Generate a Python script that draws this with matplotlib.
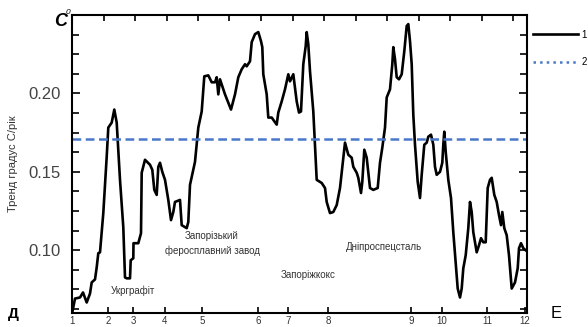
import matplotlib
matplotlib.use("Agg")
import matplotlib.pyplot as plt
from matplotlib.lines import Line2D
from matplotlib.ticker import MultipleLocator
import numpy as np

plt.rcParams['font.family'] = ['Liberation Sans', 'DejaVu Sans']

# distance along the route (arbitrary units) and temperature trend, deg C / year
dist = [0.03, 0.3, 0.8, 1.1, 1.47, 1.8, 1.97, 2.3, 2.47, 2.63, 2.8, 3.13, 3.47, 3.63,
        3.97, 4.23, 4.47, 4.8, 5.13, 5.3, 5.47, 5.8, 5.87, 6.13, 6.15, 6.63, 6.9, 6.97,
        7.3, 7.8, 8.03, 8.23, 8.47, 8.63, 8.8, 9.03, 9.3, 9.63, 9.9, 10.13, 10.3, 10.8,
        10.97, 11.47, 11.63, 11.8, 12.3, 12.63, 12.97, 13.23, 13.63, 13.97, 14.3, 14.47,
        14.63, 14.8, 15.3, 15.9, 16.3, 16.63, 16.97, 17.3, 17.47, 17.8, 17.97, 18.3,
        18.63, 18.9, 19.03, 19.13, 19.47, 19.63, 19.97, 20.47, 20.63, 20.97, 21.3, 21.63,
        21.8, 22.13, 22.47, 22.7, 22.9, 23.13, 23.37, 23.47, 23.63, 23.8, 24.13, 24.3,
        24.47, 24.97, 25.3, 25.47, 25.8, 26.13, 26.47, 26.8, 27.13, 27.3, 27.63, 27.97,
        28.13, 28.47, 28.63, 28.9, 29.03, 29.23, 29.47, 29.8, 30.13, 30.57, 30.8, 31.03,
        31.3, 31.47, 31.8, 32.03, 32.13, 32.3, 32.47, 32.7, 32.97, 33.23, 33.47, 33.63,
        33.8, 33.97, 34.13, 34.3, 34.57, 34.8, 34.97, 35.23, 35.47, 35.63, 35.9, 36.13,
        36.3, 36.47, 36.8, 37.03, 37.13, 37.23, 37.37, 37.63, 37.9, 38.13, 38.37, 38.57,
        38.8, 38.97, 39.13, 39.37, 39.63, 39.8, 39.97, 40.13, 40.47, 40.7, 40.9, 41.13,
        41.37, 41.57, 41.8, 41.97, 42.23, 42.47, 42.7, 42.9, 43.03, 43.23, 43.47, 43.7,
        43.97, 44.3, 44.57, 44.7, 44.9, 45.13, 45.37]
trend = [0.0604, 0.0692, 0.0699, 0.0731, 0.0667, 0.0724, 0.0795, 0.0814, 0.0891, 0.0981,
         0.0987, 0.1237, 0.1596, 0.1782, 0.1814, 0.1897, 0.1814, 0.1449, 0.1147, 0.0827,
         0.0821, 0.0821, 0.0936, 0.0949, 0.1045, 0.1045, 0.1109, 0.1494, 0.1577, 0.1545,
         0.1513, 0.1385, 0.1353, 0.1532, 0.1558, 0.1500, 0.1449, 0.1321, 0.1192, 0.1244,
         0.1308, 0.1321, 0.1160, 0.1141, 0.1180, 0.1417, 0.1564, 0.1782, 0.1885, 0.2109,
         0.2115, 0.2071, 0.2071, 0.2103, 0.1994, 0.2090, 0.1994, 0.1897, 0.1994, 0.2103,
         0.2154, 0.2186, 0.2173, 0.2205, 0.2327, 0.2378, 0.2391, 0.2333, 0.2295, 0.2122,
         0.1994, 0.1846, 0.1846, 0.1801, 0.1878, 0.1949, 0.2026, 0.2122, 0.2077, 0.2122,
         0.1949, 0.1878, 0.1885, 0.2186, 0.2301, 0.2391, 0.2314, 0.2141, 0.1885, 0.1673,
         0.1449, 0.1429, 0.1397, 0.1308, 0.1237, 0.1244, 0.1288, 0.1397, 0.1590, 0.1686,
         0.1609, 0.1590, 0.1532, 0.1494, 0.1462, 0.1365, 0.1436, 0.1641, 0.1590, 0.1397,
         0.1385, 0.1397, 0.1558, 0.1654, 0.1782, 0.1974, 0.2026, 0.2186, 0.2295, 0.2218,
         0.2103, 0.2090, 0.2122, 0.2269, 0.2430, 0.2442, 0.2333, 0.2186, 0.1865, 0.1673,
         0.1436, 0.1333, 0.1481, 0.1673, 0.1686, 0.1724, 0.1737, 0.1673, 0.1532, 0.1481,
         0.1500, 0.1558, 0.1673, 0.1756, 0.1628, 0.1449, 0.1333, 0.1115, 0.0923, 0.0756,
         0.0699, 0.0756, 0.0885, 0.0968, 0.1141, 0.1308, 0.1244, 0.1115, 0.0987, 0.1032,
         0.1077, 0.1051, 0.1051, 0.1397, 0.1449, 0.1462, 0.1353, 0.1308, 0.1224, 0.1160,
         0.1244, 0.1141, 0.1096, 0.0968, 0.0756, 0.0795, 0.0885, 0.1013, 0.1045, 0.1013,
         0.1000]

mean_trend = 0.171

# route points 1..12 along the profile
point_pos = [0.0, 3.6, 6.1, 9.3, 13.0, 18.6, 21.6, 25.6, 33.9, 37.0, 41.5, 45.3]
point_labels = [str(i) for i in range(1, 13)]

# plant labels
plant_names = ['Укрграфіт', 'Запорізький\nферосплавний завод', 'Запоріжкокс', 'Дніпроспецсталь']
plant_x = [6.1, 14.0, 23.6, 31.2]
plant_y = [0.0744, 0.1045, 0.0840, 0.1019]

fig = plt.figure(figsize=(5.88, 3.27), dpi=100)
ax = fig.add_axes([72 / 588, 14 / 327, 455 / 588, 298 / 327])

ax.plot(dist, trend, color='black', lw=1.9, solid_joinstyle='round')
ax.axhline(mean_trend, color='#4a78c8', lw=1.8, dashes=(3.5, 1.8))

ax.set_xlim(0, 45.5)
ax.set_ylim(0.06, 0.25)

ax.set_yticks([0.10, 0.15, 0.20])
ax.set_yticklabels(['0.10', '0.15', '0.20'])
ax.yaxis.set_minor_locator(MultipleLocator(0.0125))
ax.tick_params(axis='y', which='both', direction='in', right=True, labelsize=12,
               labelcolor='#444444', width=1.2)
ax.tick_params(axis='y', which='major', length=6, pad=8)
ax.tick_params(axis='y', which='minor', length=5)

ax.set_xticks(point_pos)
ax.set_xticklabels(point_labels)
ax.xaxis.set_minor_locator(MultipleLocator(3.15))
ax.tick_params(axis='x', which='major', direction='in', length=4, width=1.2,
               labelsize=7, pad=2, labelcolor='#333333')
ax.tick_params(axis='x', which='minor', direction='in', top=True, bottom=False,
               length=4, width=1.2)

for s in ax.spines.values():
    s.set_linewidth(1.5)

for name, x, y in zip(plant_names, plant_x, plant_y):
    ax.text(x, y, name, ha='center', va='center', fontsize=7, color='#333333',
            linespacing=1.5)

ax.set_ylabel('Тренд градус С/рік', fontsize=8, color='#333333', labelpad=2)
ax.yaxis.set_label_coords(-0.118, 0.5)

fig.text(54 / 588, 1 - 22 / 327, 'C', fontsize=13, fontweight='bold', style='italic',
         ha='left', va='center')
fig.text(66 / 588, 1 - 13 / 327, '0', fontsize=6, style='italic', ha='left', va='center')
fig.text(13 / 588, 1 - 314 / 327, 'Д', fontsize=11, fontweight='bold', ha='center', va='center')
fig.text(556 / 588, 1 - 313 / 327, 'Е', fontsize=12, ha='center', va='center')

handles = [Line2D([], [], color='black', lw=1.9),
           Line2D([], [], color='#4a78c8', lw=1.8, linestyle=':')]
ax.legend(handles, ['1', '2'], loc='upper left', bbox_to_anchor=(1.0, 0.97),
          frameon=False, fontsize=7, handlelength=4.6, handletextpad=0.4,
          labelspacing=1.8, borderaxespad=0.2)

fig.savefig('out.png', dpi=100)
